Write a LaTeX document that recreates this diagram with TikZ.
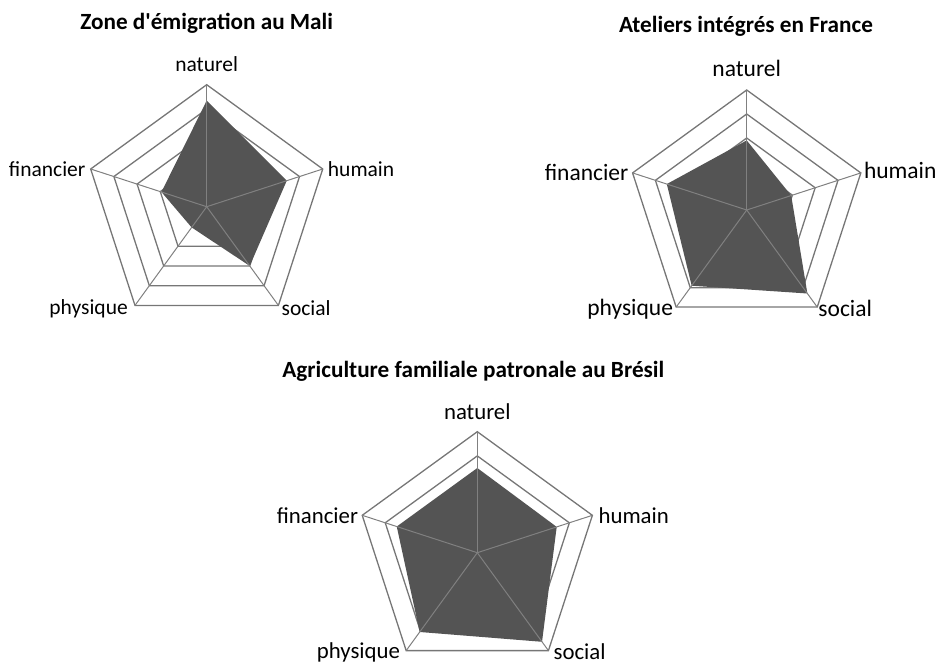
\documentclass[tikz,border=0pt]{standalone}
\usepackage{fontspec}
\setmainfont{Carlito}[Ligatures=TeXOff]
\usetikzlibrary{positioning}

\definecolor{gridgrey}{RGB}{118,118,118}
\definecolor{spokegrey}{RGB}{128,128,128}
\definecolor{areagrey}{RGB}{84,84,84}

\begin{document}
\begin{tikzpicture}[x=1pt, y=1pt,
  ring/.style={draw=gridgrey, line width=1.3pt, line join=miter},
  spoke/.style={draw=spokegrey, line width=1pt},
  area/.style={fill=areagrey},
  axislabel/.style={inner sep=0pt},
  charttitle/.style={inner sep=0pt, font=\bfseries\fontsize{23.2}{27}\selectfont}]
\useasboundingbox (0,0) rectangle (937,-665);

% Zone d'emigration au Mali
\begin{scope}[shift={(206.7,-206.7)}, every node/.append style={font=\fontsize{21.5}{25}\selectfont}]
\foreach \k in {1,...,5}
  \draw[ring] (90:{\k*24.4}) -- (18:{\k*24.4}) -- (-54:{\k*24.4}) -- (-126:{\k*24.4}) -- (162:{\k*24.4}) -- cycle;
\fill[area] (90:{0.87*122}) -- (18:{0.69*122}) -- (-54:{0.60*122}) -- (-126:{0.21*122}) -- (162:{0.39*122}) -- cycle;
\foreach \a in {90,18,-54,-126,162}
  \draw[spoke] (0,0) -- (\a:122);
\coordinate (mali-nat) at (90:122);
\coordinate (mali-hum) at (18:122);
\coordinate (mali-soc) at (-54:122);
\coordinate (mali-phy) at (-126:122);
\coordinate (mali-fin) at (162:122);
\node[axislabel, above=13pt of mali-nat] (mali-nat-lbl) {naturel};
\node[axislabel, right=5pt of mali-hum] (mali-hum-lbl) {humain};
\node[axislabel, left=5pt of mali-fin] (mali-fin-lbl) {financier};
\node[axislabel, left=7pt of mali-phy, yshift=-3pt] (mali-phy-lbl) {physique};
\node[axislabel, right=3pt of mali-soc, yshift=-3pt] (mali-soc-lbl) {social};
\end{scope}
\node[charttitle] (mali-title) at (206.7,-23.3) {Zone d'émigration au Mali};

% Ateliers integres en France
\begin{scope}[shift={(746.7,-210)}, every node/.append style={font=\fontsize{23.5}{27}\selectfont}]
\foreach \k in {1,...,5}
  \draw[ring] (90:{\k*24}) -- (18:{\k*24}) -- (-54:{\k*24}) -- (-126:{\k*24}) -- (162:{\k*24}) -- cycle;
\fill[area] (90:{0.58*120}) -- (18:{0.39*120}) -- (-54:{0.86*120}) -- (-126:{0.78*120}) -- (162:{0.70*120}) -- cycle;
\foreach \a in {90,18,-54,-126,162}
  \draw[spoke] (0,0) -- (\a:120);
\coordinate (fra-nat) at (90:120);
\coordinate (fra-hum) at (18:120);
\coordinate (fra-soc) at (-54:120);
\coordinate (fra-phy) at (-126:120);
\coordinate (fra-fin) at (162:120);
\node[axislabel, above=13pt of fra-nat] (fra-nat-lbl) {naturel};
\node[axislabel, right=3pt of fra-hum, yshift=2pt] (fra-hum-lbl) {humain};
\node[axislabel, left=4pt of fra-fin] (fra-fin-lbl) {financier};
\node[axislabel, left=3pt of fra-phy, yshift=-2pt] (fra-phy-lbl) {physique};
\node[axislabel, right=1pt of fra-soc, yshift=-1pt] (fra-soc-lbl) {social};
\end{scope}
\node[charttitle] (fra-title) at (746,-26) {Ateliers intégrés en France};

% Agriculture familiale patronale au Bresil
\begin{scope}[shift={(477.3,-552.7)}, every node/.append style={font=\fontsize{22.8}{26}\selectfont}]
\foreach \k in {1,...,5}
  \draw[ring] (90:{\k*24.2}) -- (18:{\k*24.2}) -- (-54:{\k*24.2}) -- (-126:{\k*24.2}) -- (162:{\k*24.2}) -- cycle;
\fill[area] (90:{0.70*121}) -- (18:{0.69*121}) -- (-54:{0.91*121}) -- (-126:{0.81*121}) -- (162:{0.70*121}) -- cycle;
\foreach \a in {90,18,-54,-126,162}
  \draw[spoke] (0,0) -- (\a:121);
\coordinate (bra-nat) at (90:121);
\coordinate (bra-hum) at (18:121);
\coordinate (bra-soc) at (-54:121);
\coordinate (bra-phy) at (-126:121);
\coordinate (bra-fin) at (162:121);
\node[axislabel, above=12pt of bra-nat] (bra-nat-lbl) {naturel};
\node[axislabel, right=6pt of bra-hum] (bra-hum-lbl) {humain};
\node[axislabel, left=4pt of bra-fin] (bra-fin-lbl) {financier};
\node[axislabel, left=6pt of bra-phy, yshift=-2pt] (bra-phy-lbl) {physique};
\node[axislabel, right=5pt of bra-soc, yshift=-1pt] (bra-soc-lbl) {social};
\end{scope}
\node[charttitle] (bra-title) at (473.3,-371.7) {Agriculture familiale patronale au Brésil};
\end{tikzpicture}
\end{document}
